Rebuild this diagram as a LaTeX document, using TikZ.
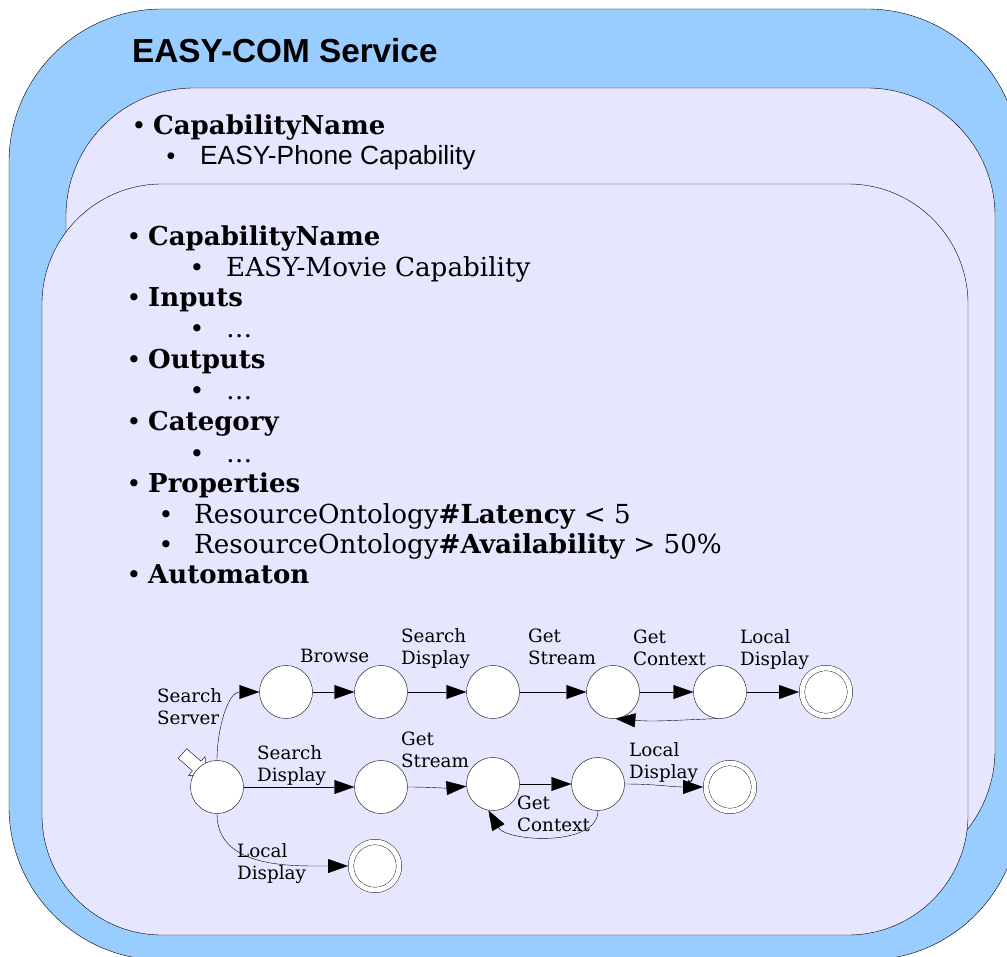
\documentclass[tikz,border=0pt]{standalone}
\usepackage{fontspec}
\setmainfont{DejaVu Serif}
\newfontfamily\arialfont{Liberation Sans}
\usetikzlibrary{arrows.meta}
\pgfdeclarelayer{boxlayer}
\pgfdeclarelayer{edgelayer}
\pgfdeclarelayer{nodelayer}
\pgfsetlayers{boxlayer,edgelayer,nodelayer,main}
\definecolor{skyblue}{RGB}{153,204,255}
\definecolor{lavender}{RGB}{230,230,255}
\tikzset{line width=1pt}
\tikzstyle{none}=[inner sep=0pt]
\tikzstyle{title}=[inner sep=0pt,anchor=base west,font=\arialfont\bfseries\fontsize{33.3}{40}\selectfont]
\tikzstyle{head}=[inner sep=0pt,anchor=base west,font=\bfseries\fontsize{26}{30}\selectfont]
\tikzstyle{item}=[inner sep=0pt,anchor=base west,font=\fontsize{26.2}{30}\selectfont]
\tikzstyle{sitem}=[item,font=\arialfont\fontsize{26.3}{30}\selectfont]
\tikzstyle{dot}=[inner sep=0pt,anchor=base,font=\fontsize{25}{30}\selectfont]
\tikzstyle{sdot}=[dot,font=\arialfont\fontsize{25}{30}\selectfont]
\tikzstyle{lbl}=[inner sep=0pt,anchor=north west,align=left,font=\fontsize{18.3}{22}\selectfont]
\tikzstyle{circ}=[circle,draw,fill=white,minimum size=53pt,inner sep=0pt]
\tikzstyle{acc}=[circle,draw,fill=white,double,double distance=5pt,minimum size=48pt,inner sep=0pt,outer sep=3pt]
\tikzstyle{trans}=[-{Triangle[length=20pt,width=14pt]}]
\tikzstyle{box}=[draw,fill=lavender]

\begin{document}
\begin{tikzpicture}[x=1pt,y=1pt]
	\useasboundingbox (0,0) rectangle (1007,-957);
	\begin{pgfonlayer}{boxlayer}
		\clip (0,0) rectangle (1007,-957);
		\draw [fill=skyblue, rounded corners=153pt] (9,-9) rectangle (1020,-960);
		\draw [style=box, rounded corners=128pt] (66,-88) rectangle (995,-878);
		\draw [style=box, rounded corners=120pt] (42,-184) rectangle (968,-935);
	\end{pgfonlayer}
	\begin{pgfonlayer}{nodelayer}
		% service and outer capability
		\node [style=title] (t) at (132,-63) {EASY-COM Service};
		\node [style=dot] (d0) at (139,-135) {•};
		\node [style=head] (c0) at (153,-135) {CapabilityName};
		\node [style=sdot] (d1) at (171,-165) {•};
		\node [style=sitem] (c1) at (200,-165) {EASY-Phone Capability};
		% inner capability
		\node [style=dot] (d2) at (134,-246) {•};
		\node [style=head] (h1) at (148,-246) {CapabilityName};
		\node [style=dot] (d3) at (197,-277) {•};
		\node [style=item] (v1) at (226,-277) {EASY-Movie Capability};
		\node [style=dot] (d4) at (134,-307) {•};
		\node [style=head] (h2) at (148,-307) {Inputs};
		\node [style=dot] (d5) at (197,-338) {•};
		\node [style=item] (v2) at (226,-338) {\dots};
		\node [style=dot] (d6) at (134,-369) {•};
		\node [style=head] (h3) at (148,-369) {Outputs};
		\node [style=dot] (d7) at (197,-400) {•};
		\node [style=item] (v3) at (226,-400) {\dots};
		\node [style=dot] (d8) at (134,-431) {•};
		\node [style=head] (h4) at (148,-431) {Category};
		\node [style=dot] (d9) at (197,-462) {•};
		\node [style=item] (v4) at (226,-462) {\dots};
		\node [style=dot] (d10) at (134,-492) {•};
		\node [style=head] (h5) at (148,-492) {Properties};
		\node [style=dot] (d11) at (166,-523) {•};
		\node [style=item] (v5) at (194,-523) {ResourceOntology\textbf{\#Latency} < 5};
		\node [style=dot] (d12) at (166,-553) {•};
		\node [style=item] (v6) at (194,-553) {ResourceOntology\textbf{\#Availability} > 50\%};
		\node [style=dot] (d13) at (134,-583) {•};
		\node [style=head] (h6) at (148,-583) {Automaton};
		% automaton states
		\node [style=circ] (s0) at (217,-787) {};
		\node [style=circ] (s1) at (286,-692) {};
		\node [style=circ] (s2) at (381,-692) {};
		\node [style=circ] (s3) at (493,-692) {};
		\node [style=circ] (s4) at (613,-692) {};
		\node [style=circ] (s5) at (720,-692) {};
		\node [style=acc] (f1) at (826,-692) {};
		\node [style=circ] (m1) at (381,-787) {};
		\node [style=circ] (m2) at (493,-784) {};
		\node [style=circ] (m3) at (598,-784) {};
		\node [style=acc] (f2) at (730,-787) {};
		\node [style=acc] (f3) at (375,-866) {};
		% transition labels
		\node [style=lbl] (l1) at (157,-688) {Search\\Server};
		\node [style=lbl] (l2) at (300,-649) {Browse};
		\node [style=lbl] (l3) at (401,-628) {Search\\Display};
		\node [style=lbl] (l4) at (528,-629) {Get\\Stream};
		\node [style=lbl] (l5) at (633,-630) {Get\\Context};
		\node [style=lbl] (l6) at (740,-629) {Local\\Display};
		\node [style=lbl] (l7) at (257,-745) {Search\\Display};
		\node [style=lbl] (l8) at (401,-732) {Get\\Stream};
		\node [style=lbl] (l9) at (629,-742) {Local\\Display};
		\node [style=lbl] (l10) at (517,-796) {Get\\Context};
		\node [style=lbl] (l11) at (237,-843) {Local\\Display};
	\end{pgfonlayer}
	\begin{pgfonlayer}{edgelayer}
		% start marker
		\draw [fill=white] (178.3,-758.3) -- (186.7,-748.7) -- (201,-761.2) -- (205,-756.7)
			-- (207.3,-775.3) -- (188.5,-775.4) -- (192.5,-770.8) -- cycle;
		\draw [style=trans] (s0.north) to[out=90,in=180] (s1.west);
		\draw [style=trans] (s1) to (s2);
		\draw [style=trans] (s2) to (s3);
		\draw [style=trans] (s3) to (s4);
		\draw [style=trans] (s4) to (s5);
		\draw [style=trans] (s5.-95) to[out=182,in=-5] (s4.-85);
		\draw [style=trans] (s5) to (f1);
		\draw [style=trans] (s0) to (m1);
		\draw [style=trans] (m1) to[out=0,in=185] (m2);
		\draw [style=trans] (m2) to (m3);
		\draw [style=trans] (m3.south) to[out=-90,in=-60,looseness=0.85] (m2.-100);
		\draw [style=trans] (m3) to[out=0,in=180] (f2);
		\draw [style=trans] (s0.south) to[out=-90,in=180] (f3);
	\end{pgfonlayer}
\end{tikzpicture}
\end{document}
